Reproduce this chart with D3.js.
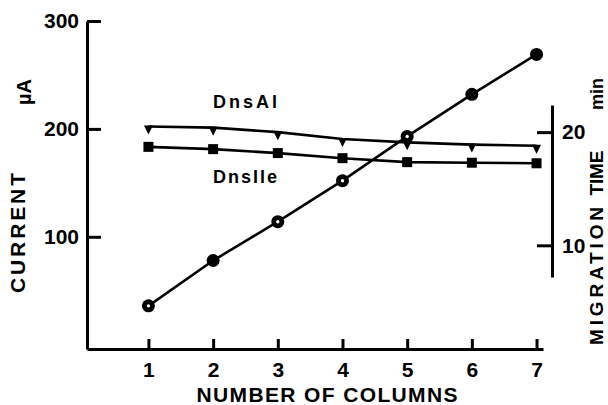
<!DOCTYPE html>
<html>
<head>
<meta charset="utf-8">
<script src="https://cdn.jsdelivr.net/npm/d3@7"></script>
<style>
  body { margin: 0; background: #fff; }
  text { font-family: "Liberation Sans", Arial, sans-serif; font-weight: bold; fill: #000; }
</style>
</head>
<body>
<svg id="chart"></svg>
<script>
// values
const columns = [1, 2, 3, 4, 5, 6, 7];
const current = [36, 78, 114, 152, 193, 232, 269];            // µA, circles
const currentOpen = [true, false, true, true, true, false, false];
const dnsAl = [20.5, 20.4, 20.0, 19.4, 19.1, 18.9, 18.8];     // min, triangles
const dnsIle = [18.7, 18.5, 18.15, 17.7, 17.35, 17.3, 17.25]; // min, squares
const currentTicks = [100, 200, 300];
const timeTicks = [10, 20];

const W = 608, H = 405;
const svg = d3.select("#chart").attr("width", W).attr("height", H);

// scales
const x = d3.scaleLinear().domain([0.05, 7.1]).range([87, 543]);
const yCur = d3.scaleLinear().domain([-4, 300]).range([349, 21]);
const yTime = d3.scaleLinear().domain([7.2, 22.4]).range([277, 105]);

function styleAxis(g) {
  g.selectAll("path, line").attr("stroke", "#000").attr("stroke-width", 3);
  g.selectAll("text")
    .attr("font-size", 21)
    .attr("font-family", "Liberation Sans, Arial, sans-serif")
    .attr("font-weight", "bold");
}

// left axis (current)
svg.append("g")
  .attr("transform", "translate(" + x(0.05) + ",0)")
  .call(d3.axisLeft(yCur).tickValues(currentTicks).tickFormat(d3.format("d"))
    .tickSizeInner(-14).tickSizeOuter(0).tickPadding(8))
  .call(styleAxis);

// bottom axis
svg.append("g")
  .attr("transform", "translate(0," + yCur(-4) + ")")
  .call(d3.axisBottom(x).tickValues(columns).tickFormat(d3.format("d"))
    .tickSizeInner(-10).tickSizeOuter(0).tickPadding(13))
  .call(styleAxis);

// right axis (migration time)
svg.append("g")
  .attr("transform", "translate(552,0)")
  .call(d3.axisRight(yTime).tickValues(timeTicks).tickFormat(d3.format("d"))
    .tickSizeInner(-15).tickSizeOuter(0).tickPadding(10))
  .call(styleAxis);

// lines
const curLine = d3.line().x((d, i) => x(columns[i])).y(d => yCur(d));
const timeLine = d3.line().x((d, i) => x(columns[i])).y(d => yTime(d));

[dnsAl, dnsIle].forEach(function (s) {
  svg.append("path").attr("d", timeLine(s))
    .attr("fill", "none").attr("stroke", "#000").attr("stroke-width", 2.6);
});
svg.append("path").attr("d", curLine(current))
  .attr("fill", "none").attr("stroke", "#000").attr("stroke-width", 2.6);

// triangle markers (pointing down, hanging from the line)
svg.selectAll(".tri").data(dnsAl).enter().append("path")
  .attr("class", "tri")
  .attr("d", function (d, i) {
    const cx = x(columns[i]), cy = yTime(d);
    return "M" + (cx - 4.5) + "," + (cy - 1) + "L" + (cx + 4.5) + "," + (cy - 1) +
      "L" + cx + "," + (cy + 8) + "Z";
  })
  .attr("fill", "#000");

// square markers
svg.selectAll(".sq").data(dnsIle).enter().append("rect")
  .attr("class", "sq")
  .attr("x", (d, i) => x(columns[i]) - 5)
  .attr("y", d => yTime(d) - 5)
  .attr("width", 10).attr("height", 10)
  .attr("fill", "#000");

// circle markers
svg.selectAll(".dot").data(current).enter().append("circle")
  .attr("class", "dot")
  .attr("cx", (d, i) => x(columns[i]))
  .attr("cy", d => yCur(d))
  .attr("r", 6.5)
  .attr("fill", "#000");
svg.selectAll(".hole").data(current.filter((d, i) => currentOpen[i])).enter().append("circle")
  .attr("class", "hole")
  .attr("cx", d => x(columns[current.indexOf(d)]))
  .attr("cy", d => yCur(d))
  .attr("r", 1.7)
  .attr("fill", "#fff");

// series labels
svg.append("text").attr("x", 213).attr("y", 108).attr("font-size", 18)
  .attr("textLength", 64).text("DnsAl");
svg.append("text").attr("x", 213).attr("y", 183).attr("font-size", 18)
  .attr("textLength", 64).text("DnsIle");

// axis titles
svg.append("text").attr("x", 327).attr("y", 402).attr("font-size", 21)
  .attr("text-anchor", "middle").attr("textLength", 261).text("NUMBER OF COLUMNS");

svg.append("text").attr("transform", "translate(25,233) rotate(-90)")
  .attr("font-size", 21).attr("text-anchor", "middle").attr("textLength", 120)
  .text("CURRENT");
svg.append("text").attr("transform", "translate(31,92) rotate(-90)")
  .attr("font-size", 20).attr("text-anchor", "middle").text("µA");

svg.append("text").attr("transform", "translate(603,276) rotate(-90)")
  .attr("font-size", 19).attr("text-anchor", "middle").attr("textLength", 138)
  .text("MIGRATION");
svg.append("text").attr("transform", "translate(603,173) rotate(-90)")
  .attr("font-size", 19).attr("text-anchor", "middle").attr("textLength", 45)
  .text("TIME");
svg.append("text").attr("transform", "translate(603,94) rotate(-90)")
  .attr("font-size", 18).attr("text-anchor", "middle").text("min");
</script>
</body>
</html>
